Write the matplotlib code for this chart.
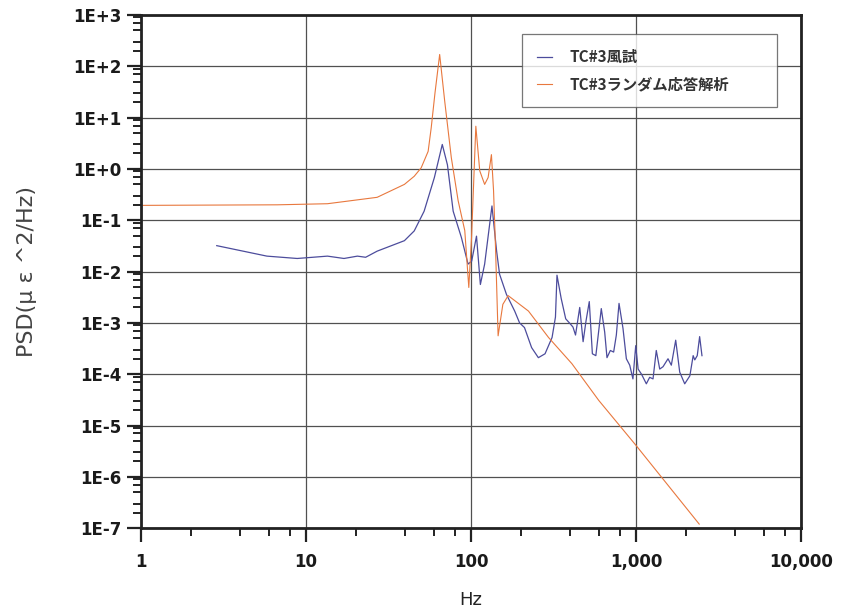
import numpy as np
import matplotlib
matplotlib.use("Agg")
import matplotlib.pyplot as plt
from matplotlib.ticker import LogLocator, FuncFormatter, NullFormatter

# TC#3 wind tunnel test (blue)
test_freq = [2.88, 5.8, 8.85, 13.5, 17, 20.5, 23, 27, 39.5, 45.3, 52, 60, 67, 72, 78,
             87.5, 96, 101, 108, 114, 121, 134, 143, 149, 164, 184, 197, 211, 233,
             256, 281, 310, 325,
             332, 352, 375, 397, 415, 430, 456, 478, 498, 521, 544, 571, 616, 646,
             667, 699, 732, 760, 789, 834, 874, 916, 958, 996, 1030, 1080, 1155, 1210,
             1268, 1327, 1392, 1458, 1563, 1637, 1740, 1840, 1973, 2120, 2220, 2270,
             2350, 2430, 2510]
test_psd = [3.2e-2, 2.0e-2, 1.8e-2, 2.0e-2, 1.8e-2, 2.0e-2, 1.9e-2, 2.5e-2, 4.0e-2,
            6.2e-2, 0.15, 0.68, 3.0, 1.2, 0.15, 4.6e-2, 1.4e-2, 1.6e-2, 4.9e-2, 5.6e-3,
            1.4e-2, 0.19, 2.5e-2, 8.9e-3, 3.6e-3, 1.7e-3, 1.0e-3, 8.1e-4, 3.3e-4,
            2.1e-4, 2.5e-4, 5.2e-4, 1.3e-3,
            8.5e-3, 3.0e-3, 1.2e-3, 9.8e-4, 8.3e-4, 5.8e-4, 2.0e-3, 4.3e-4, 1.1e-3,
            2.6e-3, 2.5e-4, 2.3e-4, 1.9e-3, 6.6e-4, 2.1e-4, 2.9e-4, 2.7e-4, 5.8e-4,
            2.4e-3, 7.8e-4, 2.0e-4, 1.5e-4, 8.1e-5, 3.6e-4, 1.26e-4, 1.0e-4, 6.5e-5,
            8.7e-5, 8.1e-5, 2.9e-4, 1.26e-4, 1.4e-4, 2.0e-4, 1.5e-4, 4.6e-4, 1.1e-4,
            6.5e-5, 9.3e-5, 2.3e-4, 1.9e-4, 2.3e-4, 5.4e-4, 2.3e-4]

# TC#3 random response analysis (orange)
calc_freq = [1, 6.7, 13.5, 27, 39.5, 45.3, 49.9, 55, 57.4, 60.5, 64.6, 69.3, 76, 83.6,
             91.7, 97, 100.8, 107, 113, 121, 127, 133, 137, 141, 146, 156, 168, 223,
             295, 409, 594, 1000, 2415]
calc_psd = [0.195, 0.2, 0.21, 0.28, 0.5, 0.72, 1.05, 2.2, 6.3, 30, 170, 21, 1.66, 0.24,
            0.063, 4.9e-3, 4.6e-2, 6.8, 0.92, 0.5, 0.68, 1.9, 0.38, 2.6e-2, 5.6e-4,
            2.3e-3, 3.4e-3, 1.7e-3, 5.2e-4, 1.6e-4, 3.1e-5, 4.1e-6, 1.2e-7]

labels = ["TC#3風試", "TC#3ランダム応答解析"]
blue = "#4c4c9c"
orange = "#e8783e"
jp_font = ["Noto Sans CJK JP", "DejaVu Sans"]

fig = plt.figure(figsize=(8.49, 6.12), dpi=100)
ax = fig.add_axes([0.166, 0.137, 0.7775, 0.8385])

ax.plot(test_freq, test_psd, color=blue, lw=0.9, label=labels[0])
ax.plot(calc_freq, calc_psd, color=orange, lw=0.8, label=labels[1])

ax.set_xscale("log")
ax.set_yscale("log")
ax.set_xlim(1, 10000)
ax.set_ylim(1e-7, 1e3)

ax.xaxis.set_major_locator(LogLocator(base=10, numticks=10))
ax.xaxis.set_minor_locator(LogLocator(base=10, subs=(2, 4, 6, 8), numticks=10))
ax.yaxis.set_major_locator(LogLocator(base=10, numticks=20))
ax.yaxis.set_minor_locator(LogLocator(base=10, subs=(2, 3, 5, 7, 9), numticks=20))
ax.xaxis.set_major_formatter(FuncFormatter(lambda v, p: f"{int(round(v)):,}"))
ax.yaxis.set_major_formatter(FuncFormatter(lambda v, p: f"1E{int(round(np.log10(v))):+d}"))
ax.xaxis.set_minor_formatter(NullFormatter())
ax.yaxis.set_minor_formatter(NullFormatter())

ax.tick_params(which="major", direction="out", length=10, width=1.6, colors="#222222", pad=4)
ax.tick_params(which="minor", direction="out", length=6, width=1.4, colors="#222222")
for lab in ax.get_xticklabels() + ax.get_yticklabels():
    lab.set_fontweight("bold")
    lab.set_fontsize(12)
    lab.set_color("#1a1a1a")
ax.tick_params(axis="x", pad=8)

for s in ax.spines.values():
    s.set_linewidth(2)
    s.set_color("#222222")

ax.grid(True, which="major", color="#505050", lw=0.9)
ax.set_axisbelow(True)

ax.set_xlabel("Hz", fontsize=13, color="#222222", labelpad=14)
ax.set_ylabel("PSD(μ ε ^2/Hz)", fontsize=16, color="#444444", family="DejaVu Sans")
ax.yaxis.set_label_coords(-0.158, 0.5)

leg = ax.legend(loc="upper left", bbox_to_anchor=(0.578, 0.962, 0.385, 0.0), mode="expand",
                prop={"family": jp_font, "size": 11, "weight": "bold"}, frameon=True,
                fancybox=False, handlelength=1.0, handletextpad=1.1, labelspacing=0.75,
                borderpad=0.95, borderaxespad=0)
leg.get_frame().set_edgecolor("#555555")
leg.get_frame().set_linewidth(0.9)
for t in leg.get_texts():
    t.set_color("#333333")

fig.savefig("out.png", dpi=100, facecolor="white")
